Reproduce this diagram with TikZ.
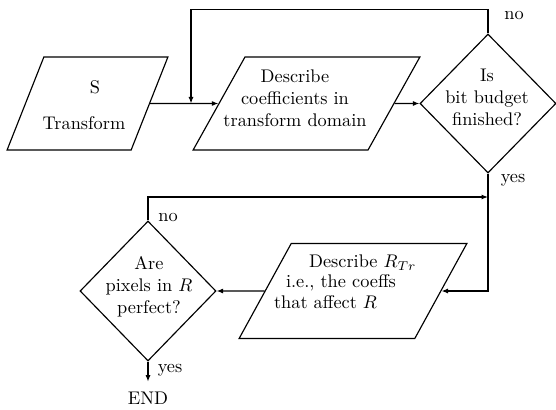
\documentclass[tikz,border=0pt]{standalone}
\usetikzlibrary{shapes.geometric,arrows.meta}
\begin{document}
\begin{tikzpicture}[x=1pt,y=-1pt,
  line width=1.15pt,
  arr/.style={-{Latex[length=6.5pt,width=5pt]}},
  para/.style={draw, trapezium, trapezium left angle=64.8, trapezium right angle=115.2, trapezium stretches=true, inner sep=2pt},
  dia/.style={draw, diamond, inner sep=2pt},
  txt/.style={scale=1.83, inner sep=0pt, align=center, font=\fontsize{10}{12}\selectfont}]
\useasboundingbox (0,0) rectangle (556,409);
% shapes
\node[para, minimum width=161pt, minimum height=93pt] (S) at (87.5,103.5) {\phantom{x}};
\node[para, minimum width=227pt, minimum height=93pt] (D) at (306.5,103.5) {\phantom{x}};
\node[dia, minimum width=136pt, minimum height=139pt] (Q1) at (488,103.5) {\phantom{x}};
\node[para, minimum width=228pt, minimum height=95pt] (R) at (353,291) {\phantom{x}};
\node[dia, minimum width=136pt, minimum height=140pt] (Q2) at (148,291) {\phantom{x}};
% texts
\node[txt] (tS) at (95,87) {S};
\node[txt] (tT) at (84,123) {Transform};
\node[txt] (tD) at (295,98) {Describe\\coefficients in\\transform domain};
\node[txt] (tQ1) at (487,97) {Is\\bit budget\\finished?};
\node[txt,anchor=west] (tR1) at (308,263) {Describe $R_{Tr}$};
\node[txt,anchor=west] (tR2) at (285,283) {i.e., the coeffs};
\node[txt,anchor=west] (tR3) at (273,302) {that affect $R$};
\node[txt] (tQ2) at (149,287) {Are\\pixels in $R$\\perfect?};
\node[txt] (end) at (148,398) {END};
\node[txt] (no1) at (514,16) {no};
\node[txt] (yes1) at (513,180) {yes};
\node[txt] (no2) at (168,217) {no};
\node[txt] (yes2) at (170,370) {yes};
% connectors
\coordinate (j1) at (191,103.5);
\coordinate (j2) at (488,197);
\draw[arr] (S.east) -- (D.west);
\draw[arr] (D.east) -- (Q1.west);
\draw[arr] (Q1.north) -- ++(0,-24) -| (j1);
\draw[arr] (Q1.south) |- (R.east);
\draw[arr] (R.west) -- (Q2.east);
\draw[arr] (Q2.north) |- (j2);
\draw[arr] (Q2.south) -- ([yshift=9pt]end.north);
\end{tikzpicture}
\end{document}
